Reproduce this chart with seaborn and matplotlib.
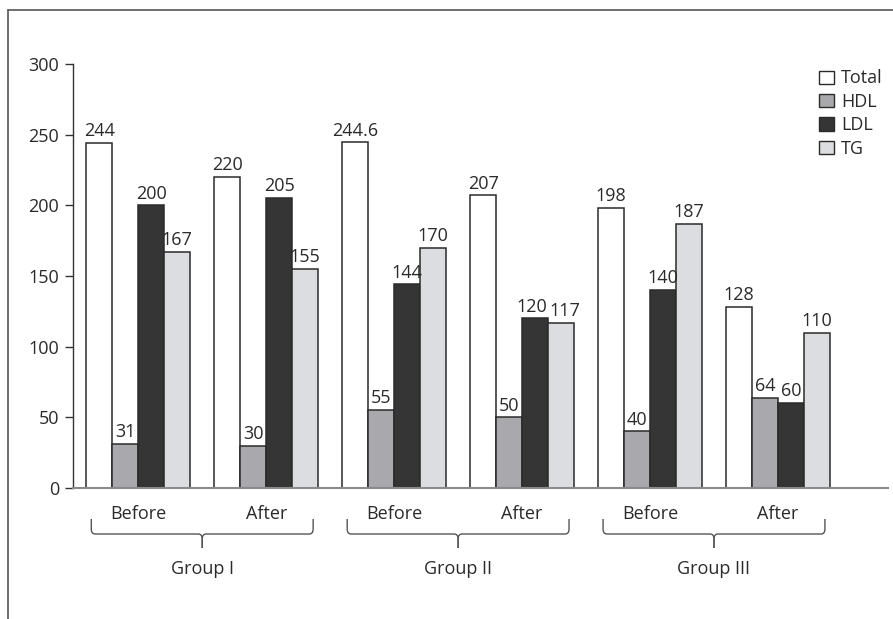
import matplotlib
matplotlib.use("Agg")
import matplotlib.pyplot as plt
import matplotlib.transforms as mtransforms
from matplotlib.path import Path
from matplotlib.patches import PathPatch, Patch
from matplotlib.lines import Line2D
import seaborn as sns
import pandas as pd

# ---- data ----
groups = ["Group I", "Group II", "Group III"]
phases = ["Before", "After"]
lipids = ["Total", "HDL", "LDL", "TG"]
total = [244, 220, 244.6, 207, 198, 128]
hdl = [31, 30, 55, 50, 40, 64]
ldl = [200, 205, 144, 120, 140, 60]
tg = [167, 155, 170, 117, 187, 110]
y_ticks = [0, 50, 100, 150, 200, 250, 300]

colors = ["#ffffff", "#a9a9ad", "#353535", "#dcdde0"]
ink = "#2a2a2a"
FS = 13
PAD = 2

sns.set_theme(style="white")
plt.rcParams["font.family"] = ["Open Sans", "DejaVu Sans"]
plt.rcParams["text.color"] = ink
plt.rcParams["axes.labelcolor"] = ink
plt.rcParams["xtick.color"] = ink
plt.rcParams["ytick.color"] = ink

clusters = [f"{g}\n{p}" for g in groups for p in phases]
rows = []
for name, vals in zip(lipids, [total, hdl, ldl, tg]):
    for c, v in zip(clusters, vals):
        rows.append({"cluster": c, "lipid": name, "value": v})
df = pd.DataFrame(rows)

fig = plt.figure(figsize=(8.93, 6.19), dpi=100)
ax = fig.add_axes([73 / 893, 1 - 488 / 619, (888 - 73) / 893, (488 - 64) / 619])

sns.barplot(data=df, x="cluster", y="value", hue="lipid", order=clusters,
            hue_order=lipids, palette=colors, width=0.8125, gap=0,
            saturation=1, edgecolor=ink, linewidth=1.1, legend=False, ax=ax)

label_sets = []
for cont in ax.containers:
    label_sets.append(ax.bar_label(cont, labels=[f"{b.get_height():g}" for b in cont],
                                   padding=PAD, fontsize=FS, color=ink))

ax.set_xlim(-0.51, 5.86)
ax.set_ylim(0, 300)
ax.set_yticks(y_ticks)
ax.set_yticklabels([str(t) for t in y_ticks], fontsize=FS)
ax.set_xticks(range(len(clusters)))
ax.set_xticklabels([p for g in groups for p in phases], fontsize=FS)
ax.tick_params(axis="x", length=0, pad=12)
ax.tick_params(axis="y", left=True, length=6, width=1, color="#333333", pad=4)
ax.set_xlabel("")
ax.set_ylabel("")

for s in ["top", "right"]:
    ax.spines[s].set_visible(False)
ax.spines["left"].set_color("#333333")
ax.spines["left"].set_linewidth(1)
ax.spines["bottom"].set_color("#8a8a8a")
ax.spines["bottom"].set_linewidth(1.5)

# nudge neighbouring value labels apart where they collide
fig.canvas.draw()
renderer = fig.canvas.get_renderer()
for ci in range(len(clusters)):
    anns = [ls[ci] for ls in label_sets]
    for a, b in zip(anns[:-1], anns[1:]):
        ba = a.get_window_extent(renderer)
        bb = b.get_window_extent(renderer)
        overlap_x = ba.x1 + 2 - bb.x0
        overlap_y = min(ba.y1, bb.y1) - max(ba.y0, bb.y0)
        if overlap_x > 0 and overlap_y > 0:
            shift = overlap_x / 2 * 72 / fig.dpi
            a.xyann = (a.xyann[0] - shift, a.xyann[1])
            b.xyann = (b.xyann[0] + shift, b.xyann[1])

# curly braces grouping the Before/After pairs
trans = mtransforms.blended_transform_factory(ax.transData, ax.transAxes)
y_end, y_bar, y_tip = -0.073, -0.1085, -0.1415
rx, ry = 0.03, 0.012
half = 0.867
for gi, g in enumerate(groups):
    xm = gi * 2 + 0.5
    for sgn in (-1, 1):
        xe = xm + sgn * half
        verts = [(xe, y_end), (xe, y_bar + ry), (xe, y_bar), (xe - sgn * rx, y_bar),
                 (xm + sgn * rx, y_bar), (xm, y_bar), (xm, y_bar - ry), (xm, y_tip)]
        codes = [Path.MOVETO, Path.LINETO, Path.CURVE3, Path.CURVE3,
                 Path.LINETO, Path.CURVE3, Path.CURVE3, Path.LINETO]
        ax.add_patch(PathPatch(Path(verts, codes), transform=trans, fill=False,
                               edgecolor="#555555", linewidth=1.0, clip_on=False))
    ax.text(xm, -0.19, g, transform=trans, ha="center", va="center",
            fontsize=FS, color=ink)

handles = [Patch(facecolor=c, edgecolor=ink, linewidth=1.0) for c in colors]
ax.legend(handles, lipids, loc="upper right", bbox_to_anchor=(1.0, 1.0),
          frameon=False, fontsize=FS, handlelength=0.8, handleheight=0.75,
          handletextpad=0.4, labelspacing=0.3, borderaxespad=0.2,
          borderpad=0.1)

# outer frame lines
fig.add_artist(Line2D([8 / 893, 8 / 893], [0, 1 - 10 / 619], color="#555555",
                      linewidth=1.2, transform=fig.transFigure))
fig.add_artist(Line2D([8 / 893, 1], [1 - 10 / 619, 1 - 10 / 619], color="#555555",
                      linewidth=1.2, transform=fig.transFigure))

fig.savefig("out.png", dpi=100, facecolor="white")
